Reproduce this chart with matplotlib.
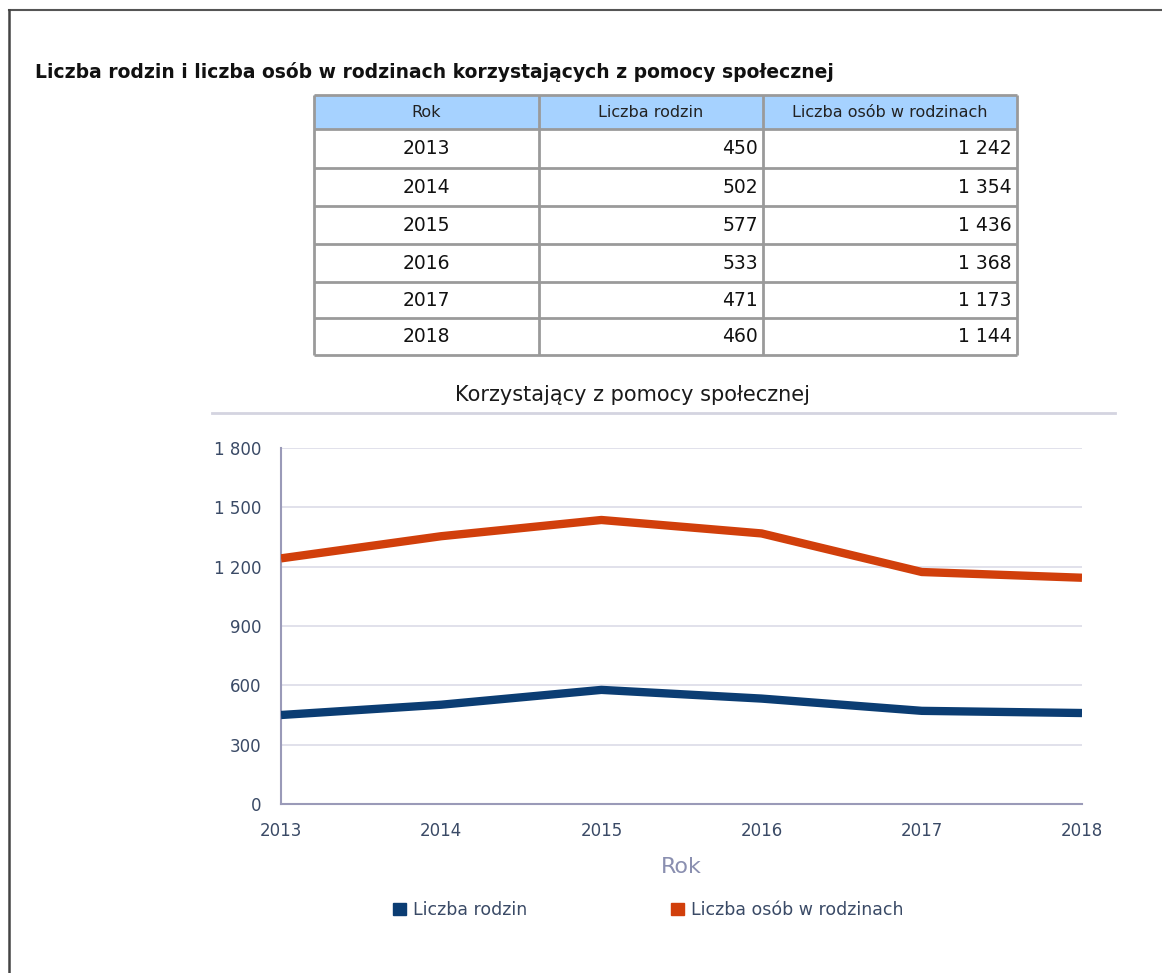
import matplotlib.pyplot as plt
from matplotlib.patches import Rectangle
from matplotlib.lines import Line2D

# dane
lata = [2013, 2014, 2015, 2016, 2017, 2018]
rodziny = [450, 502, 577, 533, 471, 460]
osoby = [1242, 1354, 1436, 1368, 1173, 1144]
naglowki = ["Rok", "Liczba rodzin", "Liczba osób w rodzinach"]
y_ticks = [0, 300, 600, 900, 1200, 1500, 1800]


def fmt(v):
    return f"{v:,}".replace(",", " ")


W, H = 1162, 973
fig = plt.figure(figsize=(W / 100, H / 100), dpi=100)
fig.patch.set_facecolor("white")

# ramka strony
fig.add_artist(Line2D([9 / W, 1], [1 - 10 / H, 1 - 10 / H], color="#555555", lw=1.5))
fig.add_artist(Line2D([9 / W, 9 / W], [0, 1 - 10 / H], color="#444444", lw=1.8))

fig.text(35 / W, 1 - 72 / H, "Liczba rodzin i liczba osób w rodzinach korzystających z pomocy społecznej",
         fontsize=13.5, fontweight="bold", va="center", ha="left", color="#111111")

# tabela
tab = fig.add_axes([314 / W, 1 - 355 / H, (1017 - 314) / W, (355 - 95) / H])
tab.set_xlim(314, 1017)
tab.set_ylim(355, 95)
tab.axis("off")
cols = [314, 539, 763, 1017]
rows = [95, 129, 168, 206, 244, 282, 318, 355]
tab.add_patch(Rectangle((314, 95), 703, 34, facecolor="#A6D2FF", edgecolor="none"))
for r in range(len(rows) - 1):
    y0, y1 = rows[r], rows[r + 1]
    ym = (y0 + y1) / 2
    if r == 0:
        for c in range(3):
            tab.text((cols[c] + cols[c + 1]) / 2, ym, naglowki[c], ha="center", va="center",
                     fontsize=11.5, color="#222222")
    else:
        i = r - 1
        tab.text((cols[0] + cols[1]) / 2, ym, str(lata[i]), ha="center", va="center",
                 fontsize=13.5, color="#111111")
        tab.text(cols[2] - 5, ym, str(rodziny[i]), ha="right", va="center",
                 fontsize=13.5, color="#111111")
        tab.text(cols[3] - 5, ym, fmt(osoby[i]), ha="right", va="center",
                 fontsize=13.5, color="#111111")
for y in rows:
    tab.plot([314, 1017], [y, y], color="#9a9a9a", lw=2, solid_capstyle="butt", clip_on=False)
for x in cols:
    tab.plot([x, x], [95, 355], color="#9a9a9a", lw=2, solid_capstyle="butt", clip_on=False)

# wykres
fig.text(632 / W, 1 - 395 / H, "Korzystający z pomocy społecznej", fontsize=15,
         ha="center", va="center", color="#1a1a1a")
fig.add_artist(Line2D([212 / W, 1115 / W], [1 - 413 / H, 1 - 413 / H], color="#d4d4e0", lw=2))

ax = fig.add_axes([281 / W, 1 - 804 / H, (1082 - 281) / W, (804 - 448) / H])
ax.plot(lata, osoby, color="#D13F0B", lw=6, solid_capstyle="butt", solid_joinstyle="round",
        label="Liczba osób w rodzinach", zorder=3)
ax.plot(lata, rodziny, color="#0B3D73", lw=6, solid_capstyle="butt", solid_joinstyle="round",
        label="Liczba rodzin", zorder=3)
ax.set_xlim(2013, 2018)
ax.set_ylim(0, 1800)
ax.set_yticks(y_ticks)
ax.set_yticklabels([fmt(v) for v in y_ticks])
ax.set_xticks(lata)
ax.tick_params(length=0, labelsize=12, colors="#3a4a66")
ax.tick_params(axis="y", pad=14)
ax.tick_params(axis="x", pad=13)
ax.grid(axis="y", color="#dcdce8", lw=1.2)
ax.set_axisbelow(True)
for s in ["top", "right"]:
    ax.spines[s].set_visible(False)
for s in ["left", "bottom"]:
    ax.spines[s].set_color("#9a9ab8")
    ax.spines[s].set_linewidth(1.5)
ax.set_xlabel("Rok", fontsize=16, color="#8a8fb0", labelpad=12)

h = [Rectangle((0, 0), 1, 1, color="#0B3D73"), Rectangle((0, 0), 1, 1, color="#D13F0B")]
fig.legend(h, ["Liczba rodzin", "Liczba osób w rodzinach"], loc="center",
           bbox_to_anchor=(648 / W, 1 - 910 / H), ncol=2, frameon=False, fontsize=12.5,
           handlelength=0.75, handleheight=0.75, handletextpad=0.4, columnspacing=8.3,
           labelcolor="#3a4a66")

fig.savefig("out.png", dpi=100, facecolor="white")
